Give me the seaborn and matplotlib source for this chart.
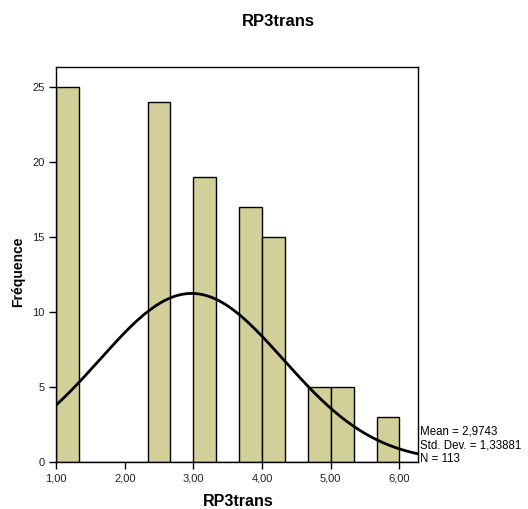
import numpy as np
import pandas as pd
import matplotlib
matplotlib.use("Agg")
import matplotlib.pyplot as plt
import seaborn as sns

# Histogram data (bin width 1/3, bins starting at 1.00)
bin_starts = [1.0, 7/3, 3.0, 11/3, 4.0, 14/3, 5.0, 17/3]
counts = [25, 24, 19, 17, 15, 5, 5, 3]
bin_edges = [1 + k/3 for k in range(0, 17)]
mean_val = 2.9743
std_val = 1.33881
n_val = 113
x_ticks = [1, 2, 3, 4, 5, 6]
x_tick_labels = ["1,00", "2,00", "3,00", "4,00", "5,00", "6,00"]
y_ticks = [0, 5, 10, 15, 20, 25]

sns.set_style("white")
plt.rcParams['font.family'] = ['Liberation Sans', 'DejaVu Sans']
plt.rcParams['text.color'] = 'black'
plt.rcParams['axes.labelcolor'] = 'black'

fig = plt.figure(figsize=(5.28, 5.09), dpi=100)
ax = fig.add_axes([56/528, 1-462/509, (418-56)/528, (462-67)/509])

df = pd.DataFrame({"RP3trans": [b + 1/6 for b in bin_starts], "count": counts})
sns.histplot(data=df, x="RP3trans", weights="count", bins=bin_edges, ax=ax,
             color="#D3CF98", edgecolor="black", linewidth=1.0, alpha=1.0)

bw = 1/3
xs = np.linspace(1.0, 6.27, 300)
ys = n_val * bw / (std_val * np.sqrt(2*np.pi)) * np.exp(-0.5*((xs-mean_val)/std_val)**2)
sns.lineplot(x=xs, y=ys, ax=ax, color="black", linewidth=2)

ax.set_xlim(1.0, 6.27)
ax.set_ylim(0, 26.3)
ax.set_xticks(x_ticks)
ax.set_xticklabels(x_tick_labels)
ax.set_yticks(y_ticks)
ax.tick_params(axis='both', which='both', direction='out', length=5, width=1,
               labelsize=8, color='black', labelcolor='#222222', left=True, bottom=True,
               pad=3)
for s in ax.spines.values():
    s.set_color('black')
    s.set_linewidth(1.0)

ax.set_xlabel("")
ax.set_ylabel("")
fig.text(238/528, 1-501/509, "RP3trans", ha='center', va='center', fontsize=11.5, fontweight='bold')
fig.text(18/528, 1-272/509, "Fréquence", ha='center', va='center', rotation=90,
         fontsize=10, fontweight='bold')
fig.text(278/528, 1-21/509, "RP3trans", ha='center', va='center', fontsize=12, fontweight='bold')

stats = [f"Mean = {mean_val:.4f}".replace('.', ','),
         f"Std. Dev. = {str(std_val).replace('.', ',')}",
         f"N = {n_val}"]
for i, t in enumerate(stats):
    fig.text(420/528, 1-(431 + 14*i)/509, t, ha='left', va='center', fontsize=8.3)

fig.savefig("out.png", dpi=100)
